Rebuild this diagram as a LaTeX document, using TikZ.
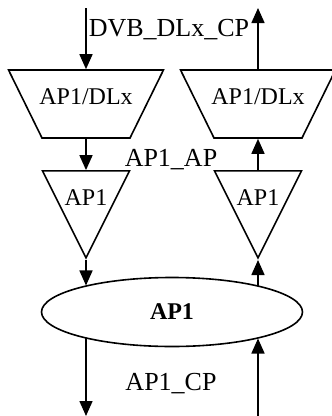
\documentclass[tikz,border=0pt]{standalone}
\usepackage{fontspec}
\setmainfont{Liberation Serif}
\usetikzlibrary{shapes.geometric,arrows.meta}
\def\boxsize{\fontsize{24}{28}\selectfont}
\def\tagsize{\fontsize{26}{30}\selectfont}
\tikzset{demux/.style={trapezium, shape border rotate=180, draw, line width=1.6pt,
      trapezium left angle=63.8, trapezium right angle=63.8,
      inner xsep=44pt, inner ysep=34pt, label={[inner sep=0pt, text height=8pt, text depth=8pt]center:#1}},
    filt/.style={isosceles triangle, shape border rotate=270, draw, line width=1.6pt,
      isosceles triangle stretches=true, minimum width=87, minimum height=87, inner sep=0pt,
      text height=30pt, text depth=0pt, anchor=apex},
    hub/.style={ellipse, draw, line width=1.6pt, minimum width=261, minimum height=69,
      inner sep=0pt, font=\boxsize\bfseries},
    flow/.style={-{Triangle[length=15pt,width=13pt]}, line width=1.6pt},
    tag/.style={anchor=base, font=\tagsize}}

\begin{document}
\begin{tikzpicture}[x=1pt,y=-1pt,font=\boxsize]
    \useasboundingbox (0,0) rectangle (332,416);
    \node[demux=AP1/DLx] (dmxL) at (86,104)  {};
    \node[demux=AP1/DLx] (dmxR) at (258,104) {};
    \node[filt]  (filtL) at (86,260)  {AP1};
    \node[filt]  (filtR) at (258,260) {AP1};
    \node[hub]   (ap) at (172,312) {AP1};
    \coordinate (inL)  at (86,8);
    \coordinate (outR) at (258,8);
    \coordinate (outL) at (86,416);
    \coordinate (inR)  at (258,416);
    \draw[flow] (inL) -- (dmxL.north);
    \draw[flow] (dmxL.south) -- (filtL.north);
    \draw[flow] (filtL.apex) -- (filtL.apex |- ap.163.5);
    \draw[flow] (ap.196.5 -| outL) -- (outL);
    \draw[flow] (inR) -- (inR |- ap.343.5);
    \draw[flow] (filtR.apex |- ap.16.5) -- (filtR.apex);
    \draw[flow] (filtR.north) -- (dmxR.south);
    \draw[flow] (dmxR.north) -- (outR);
    \node[tag] (cpIn) at (169,36)  {DVB\_DLx\_CP};
    \node[tag] (apLink) at (171,166) {AP1\_AP};
    \node[tag] (cpOut) at (171,390) {AP1\_CP};
\end{tikzpicture}
\end{document}
